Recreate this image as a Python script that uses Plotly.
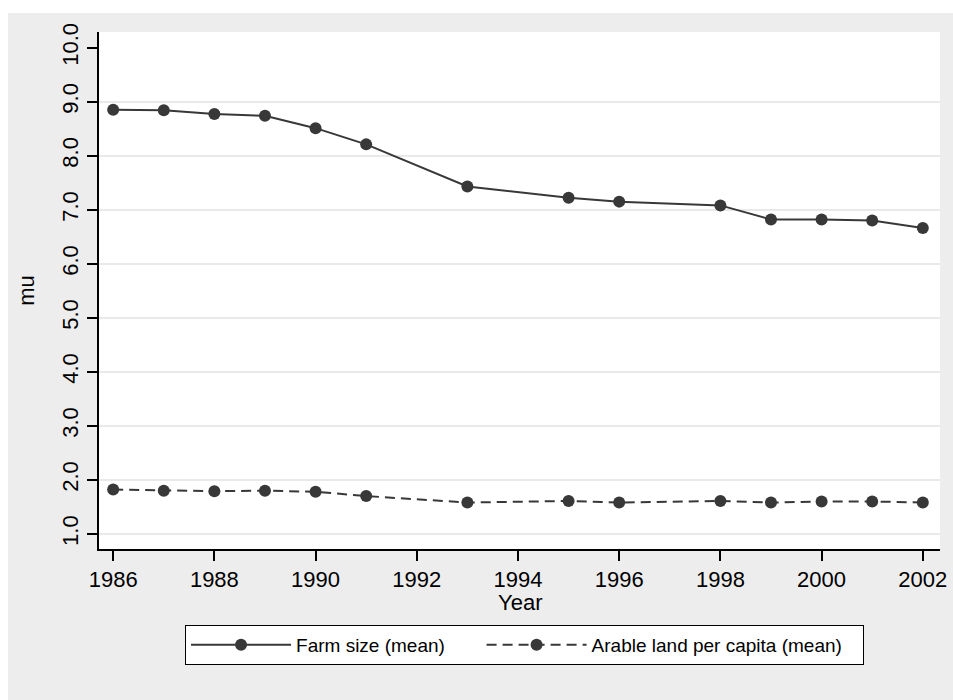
import plotly.graph_objects as go

years = [1986, 1987, 1988, 1989, 1990, 1991, 1993, 1995, 1996, 1998, 1999, 2000, 2001, 2002]
farm_size = [8.85, 8.84, 8.77, 8.74, 8.51, 8.21, 7.43, 7.22, 7.15, 7.08, 6.82, 6.82, 6.80, 6.66]
arable_land = [1.82, 1.80, 1.79, 1.80, 1.78, 1.70, 1.58, 1.61, 1.58, 1.61, 1.58, 1.60, 1.60, 1.58]
y_ticks = [1, 2, 3, 4, 5, 6, 7, 8, 9, 10]
y_tick_labels = ["1.0", "2.0", "3.0", "4.0", "5.0", "6.0", "7.0", "8.0", "9.0", "10.0"]
grid_values = [1, 2, 3, 4, 5, 6, 7, 8, 9]
x_ticks = [1986, 1988, 1990, 1992, 1994, 1996, 1998, 2000, 2002]
series_names = ["Farm size (mean)", "Arable land per capita (mean)"]

FONT = "Liberation Sans, Arial, sans-serif"
DARK = "#383838"
NBSP = "\u00a0"

fig = go.Figure()
fig.add_trace(go.Scatter(
    x=years, y=farm_size, mode="lines+markers", name=series_names[0] + NBSP * 6,
    line=dict(color=DARK, width=2),
    marker=dict(color=DARK, size=12),
))
fig.add_trace(go.Scatter(
    x=years, y=arable_land, mode="lines+markers", name=series_names[1] + NBSP * 3,
    line=dict(color=DARK, width=2, dash="10px,6px"),
    marker=dict(color=DARK, size=12),
))
# invisible trace on overlay axis to carry the gridlines (no gridline at 10.0)
fig.add_trace(go.Scatter(x=[years[0]], y=[grid_values[0]], yaxis="y2", mode="markers",
                         marker=dict(opacity=0), showlegend=False, hoverinfo="skip"))

fig.update_layout(
    width=953, height=700,
    margin=dict(l=99, r=13, t=32, b=151, autoexpand=False),
    paper_bgcolor="white",
    plot_bgcolor="white",
    font=dict(family=FONT, color="black", size=22),
    shapes=[
        dict(type="rect", xref="paper", yref="paper", x0=-0.1082, x1=1.0155, y0=-0.292, y1=1.0368,
             fillcolor="#ededed", line=dict(width=0), layer="below"),
        dict(type="rect", xref="paper", yref="paper", x0=0, x1=1, y0=0, y1=1,
             fillcolor="white", line=dict(width=0), layer="below"),
    ],
    xaxis=dict(
        range=[1985.72, 2002.34], tickvals=x_ticks, ticks="outside", ticklen=10, tickwidth=1.5,
        tickcolor="black", showline=True, linecolor="black", linewidth=1.5, showgrid=False,
        zeroline=False, tickfont=dict(size=22), automargin=False,
    ),
    yaxis=dict(
        range=[0.72, 10.29], tickvals=y_ticks, ticktext=y_tick_labels, tickangle=-90,
        ticks="outside", ticklen=10, tickwidth=1.5, tickcolor="black",
        showline=True, linecolor="black", linewidth=1.5,
        showgrid=False, zeroline=False, automargin=False,
        tickfont=dict(size=22), title=dict(text="mu", font=dict(size=22), standoff=18),
    ),
    yaxis2=dict(
        overlaying="y", range=[0.72, 10.29], tickvals=grid_values, showticklabels=False,
        ticks="", showgrid=True, gridcolor="#e9e9e9", gridwidth=2, zeroline=False,
        showline=False, layer="below traces", automargin=False,
    ),
    annotations=[
        dict(text="Year", xref="paper", yref="paper", x=0.5, y=-0.076, xanchor="center",
             yanchor="top", showarrow=False, font=dict(size=22)),
    ],
    legend=dict(
        orientation="h", x=0.506, xanchor="center", y=-0.147, yanchor="top",
        bgcolor="white", bordercolor="black", borderwidth=1,
        font=dict(size=19), itemwidth=100, traceorder="normal",
    ),
    showlegend=True,
)

fig.write_html(
    "out.html",
    config={"displayModeBar": False},
    post_script="document.body.style.margin='0';document.documentElement.style.overflow='hidden';",
)
